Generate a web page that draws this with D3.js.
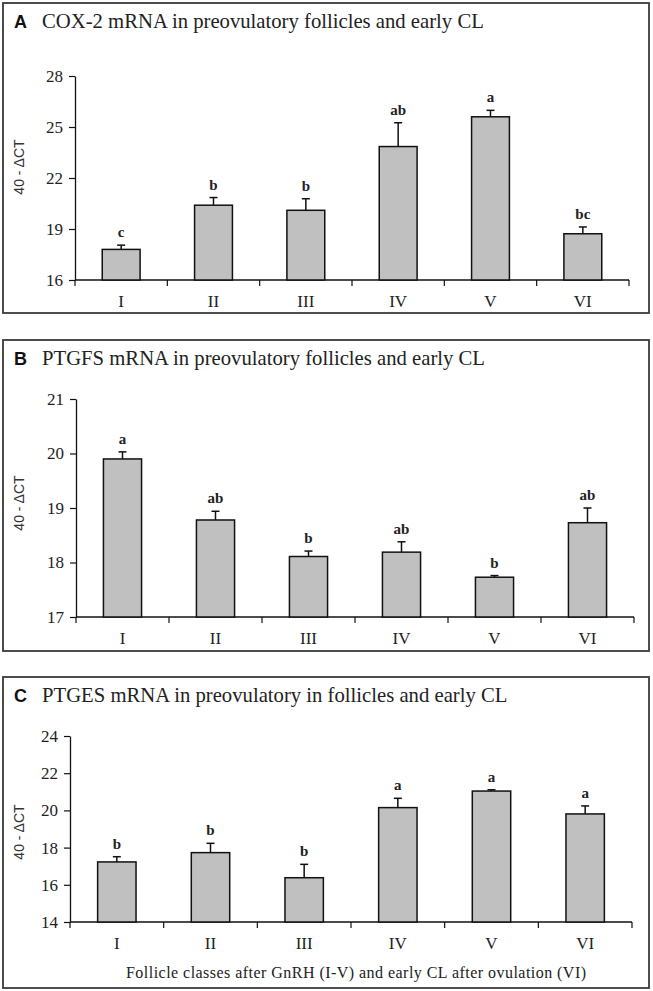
<!DOCTYPE html>
<html>
<head>
<meta charset="utf-8">
<script src="https://cdn.jsdelivr.net/npm/d3@7"></script>
<style>
  html, body { margin: 0; padding: 0; background: #fff; }
  svg { display: block; }
</style>
</head>
<body>
<script>
// ---- data ----
const categories = ["I", "II", "III", "IV", "V", "VI"];

const coxTitle = "COX-2 mRNA in preovulatory follicles and early CL";
const coxMeans = [17.8, 20.4, 20.1, 23.85, 25.6, 18.72];
const coxErr = [0.25, 0.45, 0.68, 1.4, 0.38, 0.4];
const coxLetters = ["c", "b", "b", "ab", "a", "bc"];
const coxTicks = [16, 19, 22, 25, 28];

const ptgfsTitle = "PTGFS mRNA in preovulatory follicles and early CL";
const ptgfsMeans = [19.9, 18.78, 18.11, 18.19, 17.73, 18.73];
const ptgfsErr = [0.13, 0.16, 0.1, 0.19, 0.03, 0.27];
const ptgfsLetters = ["a", "ab", "b", "ab", "b", "ab"];
const ptgfsTicks = [17, 18, 19, 20, 21];

const ptgesTitle = "PTGES mRNA in preovulatory in follicles and early CL";
const ptgesMeans = [17.23, 17.73, 16.38, 20.15, 21.04, 19.81];
const ptgesErr = [0.28, 0.5, 0.72, 0.5, 0.07, 0.43];
const ptgesLetters = ["b", "b", "b", "a", "a", "a"];
const ptgesTicks = [14, 16, 18, 20, 22, 24];

const yLabel = "40 - \u0394CT";
const xTitle = "Follicle classes after GnRH (I-V) and early CL after ovulation (VI)";

// ---- layout ----
const W = 653, H = 991;
const svg = d3.select("body").append("svg").attr("width", W).attr("height", H);

const serif = "'Times New Roman', 'Liberation Serif', 'DejaVu Serif', serif";
const sans = "Arial, 'Liberation Sans', sans-serif";
const ink = "#222";

const panels = [
  { letter: "A", title: coxTitle, means: coxMeans, err: coxErr, letters: coxLetters, ticks: coxTicks,
    box: [3, 3, 649, 313], x0: 75, x1: 629, yTop: 76, yBot: 280, yLabY: 167 },
  { letter: "B", title: ptgfsTitle, means: ptgfsMeans, err: ptgfsErr, letters: ptgfsLetters, ticks: ptgfsTicks,
    box: [3, 340, 649, 651], x0: 76, x1: 634, yTop: 399, yBot: 617, yLabY: 503 },
  { letter: "C", title: ptgesTitle, means: ptgesMeans, err: ptgesErr, letters: ptgesLetters, ticks: ptgesTicks,
    box: [3, 677, 649, 988], x0: 70, x1: 632, yTop: 736, yBot: 922, yLabY: 832, xTitle: xTitle }
];

panels.forEach(p => {
  const g = svg.append("g");
  const [bx0, by0, bx1, by1] = p.box;
  g.append("rect").attr("x", bx0).attr("y", by0).attr("width", bx1 - bx0).attr("height", by1 - by0)
    .attr("fill", "none").attr("stroke", "#3a3a3a").attr("stroke-width", 1.8);

  g.append("text").attr("x", 14).attr("y", by0 + 25)
    .attr("font-family", sans).attr("font-weight", "bold").attr("font-size", 18).attr("fill", "#111")
    .text(p.letter);
  g.append("text").attr("x", 42).attr("y", by0 + 25)
    .attr("font-family", serif).attr("font-size", 20.7).attr("fill", ink)
    .text(p.title);

  const x = d3.scaleBand().domain(categories).range([p.x0, p.x1]).paddingInner(0.59).paddingOuter(0.295);
  const y = d3.scaleLinear().domain([p.ticks[0], p.ticks[p.ticks.length - 1]]).range([p.yBot, p.yTop]);

  // y axis
  const yAx = g.append("g").attr("transform", `translate(${p.x0},0)`)
    .call(d3.axisLeft(y).tickValues(p.ticks).tickFormat(d3.format("d")).tickSize(6).tickSizeOuter(0).tickPadding(6));
  yAx.attr("font-family", serif);
  yAx.select(".domain").attr("stroke", "#111").attr("stroke-width", 1.3);
  yAx.selectAll(".tick line").attr("stroke", "#111").attr("stroke-width", 1.2);
  yAx.selectAll(".tick text").attr("font-family", serif).attr("font-size", 17).attr("fill", ink);

  // x axis: ticks at band boundaries
  const xAx = g.append("g").attr("transform", `translate(0,${p.yBot})`);
  xAx.append("line").attr("x1", p.x0).attr("x2", p.x1).attr("y1", 0).attr("y2", 0)
    .attr("stroke", "#111").attr("stroke-width", 1.3);
  const step = x.step();
  const bounds = d3.range(categories.length + 1).map(i => p.x0 + i * step);
  xAx.selectAll("line.tk").data(bounds).join("line").attr("class", "tk")
    .attr("x1", d => d).attr("x2", d => d).attr("y1", 0).attr("y2", 6)
    .attr("stroke", "#111").attr("stroke-width", 1.2);
  xAx.selectAll("text.lab").data(categories).join("text").attr("class", "lab")
    .attr("x", d => x(d) + x.bandwidth() / 2).attr("y", 27)
    .attr("text-anchor", "middle").attr("font-family", serif).attr("font-size", 17).attr("fill", ink)
    .text(d => d);

  // y label
  g.append("text").attr("transform", `translate(24,${p.yLabY}) rotate(-90)`)
    .attr("text-anchor", "middle").attr("font-family", sans).attr("font-size", 14).attr("fill", "#333")
    .text(yLabel);

  const rows = categories.map((c, i) => ({ c, m: p.means[i], e: p.err[i], l: p.letters[i] }));

  // error bars (upper only)
  const eb = g.selectAll("g.eb").data(rows).join("g").attr("class", "eb");
  eb.append("line")
    .attr("x1", d => x(d.c) + x.bandwidth() / 2).attr("x2", d => x(d.c) + x.bandwidth() / 2)
    .attr("y1", d => y(d.m)).attr("y2", d => y(d.m + d.e))
    .attr("stroke", "#111").attr("stroke-width", 1.5);
  eb.append("line")
    .attr("x1", d => x(d.c) + x.bandwidth() / 2 - 4).attr("x2", d => x(d.c) + x.bandwidth() / 2 + 4)
    .attr("y1", d => y(d.m + d.e)).attr("y2", d => y(d.m + d.e))
    .attr("stroke", "#111").attr("stroke-width", 1.5);

  // bars
  g.selectAll("rect.bar").data(rows).join("rect").attr("class", "bar")
    .attr("x", d => x(d.c)).attr("width", x.bandwidth())
    .attr("y", d => y(d.m)).attr("height", d => p.yBot - y(d.m))
    .attr("fill", "#c0c0c0").attr("stroke", "#111").attr("stroke-width", 1.5);

  // significance letters
  g.selectAll("text.sig").data(rows).join("text").attr("class", "sig")
    .attr("x", d => x(d.c) + x.bandwidth() / 2).attr("y", d => y(d.m + d.e) - 8)
    .attr("text-anchor", "middle").attr("font-family", serif).attr("font-weight", "bold")
    .attr("font-size", 15).attr("fill", ink)
    .text(d => d.l);

  if (p.xTitle) {
    g.append("text").attr("x", 356).attr("y", 978)
      .attr("text-anchor", "middle").attr("font-family", serif).attr("font-size", 16).attr("fill", ink)
      .attr("textLength", 460).attr("lengthAdjust", "spacing")
      .text(p.xTitle);
  }
});
</script>
</body>
</html>
